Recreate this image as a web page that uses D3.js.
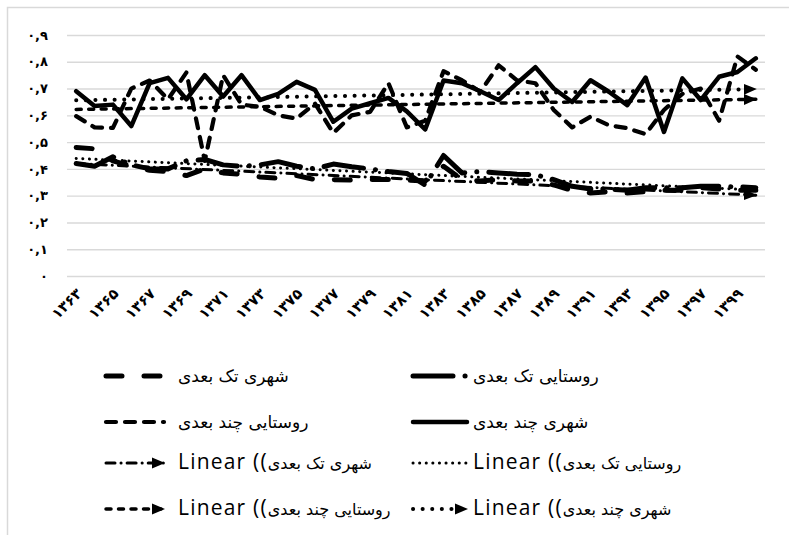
<!DOCTYPE html>
<html>
<head>
<meta charset="utf-8">
<script src="https://cdn.jsdelivr.net/npm/d3@7/dist/d3.min.js"></script>
<style>
  body { margin: 0; background: #fff; }
  text { fill: #000; }
</style>
</head>
<body>
<svg width="789" height="535"></svg>
<script>
const svg = d3.select("svg");

// categories (solar hijri years)
const categories = ["۱۳۶۳","۱۳۶۴","۱۳۶۵","۱۳۶۶","۱۳۶۷","۱۳۶۸","۱۳۶۹","۱۳۷۰","۱۳۷۱","۱۳۷۲",
  "۱۳۷۳","۱۳۷۴","۱۳۷۵","۱۳۷۶","۱۳۷۷","۱۳۷۸","۱۳۷۹","۱۳۸۰","۱۳۸۱","۱۳۸۲",
  "۱۳۸۳","۱۳۸۴","۱۳۸۵","۱۳۸۶","۱۳۸۷","۱۳۸۸","۱۳۸۹","۱۳۹۰","۱۳۹۱","۱۳۹۲",
  "۱۳۹۳","۱۳۹۴","۱۳۹۵","۱۳۹۶","۱۳۹۷","۱۳۹۸","۱۳۹۹","۱۴۰۰"];
const xTickLabels = ["۱۳۶۳","۱۳۶۵","۱۳۶۷","۱۳۶۹","۱۳۷۱","۱۳۷۳","۱۳۷۵","۱۳۷۷","۱۳۷۹","۱۳۸۱",
  "۱۳۸۳","۱۳۸۵","۱۳۸۷","۱۳۸۹","۱۳۹۱","۱۳۹۳","۱۳۹۵","۱۳۹۷","۱۳۹۹"];
const yTicks = [0, 0.1, 0.2, 0.3, 0.4, 0.5, 0.6, 0.7, 0.8, 0.9];
const yTickLabels = ["۰","۰,۱","۰,۲","۰,۳","۰,۴","۰,۵","۰,۶","۰,۷","۰,۸","۰,۹"];

// series
const ruralSingle = [0.42,0.41,0.445,0.415,0.40,0.40,0.43,0.435,0.415,0.41,0.415,0.427,0.41,0.40,0.418,0.408,0.40,0.39,0.383,0.34,
  0.45,0.385,0.39,0.385,0.38,0.378,0.36,0.335,0.325,0.325,0.32,0.33,0.33,0.33,0.335,0.335,0.333,0.33];
const urbanSingle = [0.48,0.475,0.43,0.41,0.395,0.39,0.375,0.40,0.385,0.38,0.37,0.365,0.375,0.36,0.36,0.358,0.36,0.36,0.358,0.355,
  0.41,0.36,0.355,0.36,0.355,0.355,0.34,0.32,0.31,0.315,0.31,0.315,0.32,0.32,0.33,0.325,0.32,0.32];
const urbanMulti = [0.69,0.635,0.64,0.56,0.72,0.74,0.66,0.75,0.67,0.75,0.657,0.68,0.725,0.695,0.576,0.625,0.645,0.665,0.615,0.547,
  0.73,0.72,0.69,0.657,0.72,0.78,0.70,0.65,0.731,0.688,0.638,0.741,0.538,0.738,0.657,0.744,0.762,0.813];
const ruralMulti = [0.597,0.555,0.553,0.70,0.73,0.66,0.76,0.43,0.75,0.64,0.632,0.60,0.588,0.644,0.534,0.60,0.613,0.72,0.555,0.58,
  0.765,0.731,0.688,0.787,0.731,0.72,0.62,0.555,0.595,0.563,0.552,0.53,0.62,0.68,0.70,0.58,0.82,0.77];

// linear trendlines: value at first and last year
const ruralSingleTrend = [0.439, 0.321];
const urbanSingleTrend = [0.42, 0.302];
const urbanMultiTrend = [0.656, 0.698];
const ruralMultiTrend = [0.622, 0.66];

const x = d3.scaleBand().domain(categories).range([67, 765]);
const y = d3.scaleLinear().domain([0, 0.9]).range([276, 35]);
const cx = c => x(c) + x.bandwidth() / 2;

// arrow marker
svg.append("defs").append("marker")
  .attr("id", "arrow")
  .attr("viewBox", "0 -6 14 12")
  .attr("refX", 12).attr("refY", 0)
  .attr("markerUnits", "userSpaceOnUse")
  .attr("markerWidth", 14).attr("markerHeight", 12)
  .attr("orient", "auto")
  .append("path").attr("d", "M0,-5.5L13,0L0,5.5Z").attr("fill", "#000");

// chart area border
svg.append("rect")
  .attr("x", 7.5).attr("y", 7.5).attr("width", 900).attr("height", 700)
  .attr("fill", "none").attr("stroke", "#d9d9d9").attr("stroke-width", 1.5);

// y axis + gridlines
const yAxis = svg.append("g")
  .attr("transform", "translate(67,0)")
  .call(d3.axisLeft(y).tickValues(yTicks).tickFormat((d, i) => yTickLabels[i]).tickSize(-698).tickPadding(19));
yAxis.select(".domain").remove();
yAxis.selectAll(".tick line").attr("stroke", "#d9d9d9").attr("stroke-width", 1.4);
yAxis.selectAll(".tick text")
  .attr("font-family", "DejaVu Sans").attr("font-weight", "bold").attr("font-size", 13)
  .attr("letter-spacing", 1.5).attr("fill", "#000");

// x axis labels
const xAxis = svg.append("g")
  .attr("transform", "translate(0,276)")
  .call(d3.axisBottom(x).tickValues(xTickLabels).tickSize(0));
xAxis.select(".domain").remove();
xAxis.selectAll(".tick text")
  .attr("x", 0).attr("y", 0).attr("dy", "0.35em")
  .attr("transform", "translate(3,15) rotate(-45)")
  .attr("text-anchor", "end")
  .attr("font-family", "DejaVu Sans").attr("font-weight", "bold").attr("font-size", 14.5).attr("fill", "#000");

// styles
const sty = {
  urbanSingle: { w: 5, dash: "16,22" },
  ruralSingle: { w: 5, dash: "40,12,0.1,12" },
  urbanMulti:  { w: 4.5, dash: null },
  ruralMulti:  { w: 4.2, dash: "10,9" },
  urbanSingleTrend: { w: 3, dash: "9,6,0.1,6", arrow: true },
  ruralSingleTrend: { w: 3, dash: "0.1,6.5", arrow: false },
  urbanMultiTrend:  { w: 4, dash: "0.1,9.5", arrow: true },
  ruralMultiTrend:  { w: 3.5, dash: "5,7.5", arrow: true }
};

const line = d3.line().x(d => cx(d.c)).y(d => y(d.v));
const toPts = arr => arr.map((v, i) => ({ c: categories[i], v }));
const toTrend = t => [{ c: categories[0], v: t[0] }, { c: categories[categories.length - 1], v: t[1] }];

function styleIt(sel, s) {
  sel.attr("fill", "none").attr("stroke", "#000")
    .attr("stroke-width", s.w)
    .attr("stroke-linecap", "round").attr("stroke-linejoin", "round");
  if (s.dash) sel.attr("stroke-dasharray", s.dash);
  if (s.arrow) sel.attr("marker-end", "url(#arrow)");
  return sel;
}

const plot = svg.append("g");
[["urbanSingle", urbanSingle], ["ruralSingle", ruralSingle], ["urbanMulti", urbanMulti], ["ruralMulti", ruralMulti]]
  .forEach(([k, arr]) => styleIt(plot.append("path").attr("d", line(toPts(arr))), sty[k]));

[["urbanSingleTrend", urbanSingleTrend], ["ruralSingleTrend", ruralSingleTrend],
 ["urbanMultiTrend", urbanMultiTrend], ["ruralMultiTrend", ruralMultiTrend]]
  .forEach(([k, t]) => styleIt(plot.append("path").attr("d", line(toTrend(t))), sty[k]));

// legend
const legendItems = [
  { key: "urbanSingle", name: "شهری تک بعدی", col: 0, row: 0 },
  { key: "ruralSingle", name: "روستایی تک بعدی", col: 1, row: 0 },
  { key: "ruralMulti", name: "روستایی چند بعدی", col: 0, row: 1 },
  { key: "urbanMulti", name: "شهری چند بعدی", col: 1, row: 1 },
  { key: "urbanSingleTrend", name: "شهری تک بعدی", col: 0, row: 2, trend: true },
  { key: "ruralSingleTrend", name: "روستایی تک بعدی", col: 1, row: 2, trend: true },
  { key: "ruralMultiTrend", name: "روستایی چند بعدی", col: 0, row: 3, trend: true },
  { key: "urbanMultiTrend", name: "شهری چند بعدی", col: 1, row: 3, trend: true }
];
const rowY = [376, 422, 463, 509];
const colX = [[106, 164, 178], [413, 467, 473]];

const legend = svg.append("g");
legendItems.forEach(d => {
  const [x0, x1, tx] = colX[d.col];
  const yy = rowY[d.row];
  styleIt(legend.append("line").attr("x1", x0).attr("x2", x1).attr("y1", yy).attr("y2", yy), sty[d.key]);
  const t = legend.append("text")
    .attr("x", tx).attr("y", yy + 6)
    .attr("direction", "ltr")
    .attr("font-family", "DejaVu Sans").attr("font-size", 17);
  if (d.trend) {
    t.append("tspan").attr("font-family", "Open Sans").attr("font-size", 21)
      .attr("letter-spacing", 1.2).text("Linear ((");
    t.append("tspan").attr("font-size", 16).attr("letter-spacing", 0).text(d.name);
  } else {
    t.text(d.name);
  }
});
</script>
</body>
</html>
